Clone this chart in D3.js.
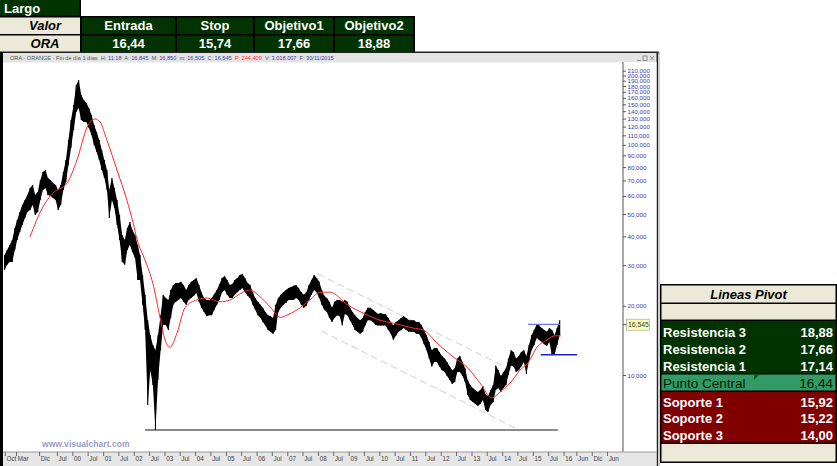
<!DOCTYPE html>
<html><head><meta charset="utf-8">
<script src="https://cdn.jsdelivr.net/npm/d3@7/dist/d3.min.js"></script>
<style>
body{margin:0;background:#fff;}
svg{display:block;font-family:"Liberation Sans",Arial,Helvetica,sans-serif;}
</style></head><body>
<svg id="c" width="837" height="466"></svg>
<script>
// ---------- data ----------
const tradeHeaders = ["Valor","Entrada","Stop","Objetivo1","Objetivo2"];
const tradeValues  = ["ORA","16,44","15,74","17,66","18,88"];
const pivotLabels  = ["Resistencia 3","Resistencia 2","Resistencia 1","Punto Central","Soporte 1","Soporte 2","Soporte 3"];
const pivotValues  = ["18,88","17,66","17,14","16,44","15,92","15,22","14,00"];

const firstMonth = "1997-10-01";   // monthly bars Oct 1997 .. Nov 2015
const monthHigh = [
33.2,34.9,36.7,38.6,43.5,47.1,51.1,54.8,57.6,60.5,
64.9,66.9,60.5,62.4,70.3,76.2,77.7,71.7,70.3,68.2,
66.9,63.6,66.9,76.2,85.9,104.9,128.2,148.9,182,191.2,
164.6,156.5,151.9,144.5,134.8,121.9,113.6,104.9,94.9,85.9,
77.7,63.6,71.7,64.9,57.6,49.6,40.6,38.6,43.5,46.2,
42.6,40.6,36.7,33.2,27.2,22.3,17.3,14.9,13.5,12.8,
14.9,18.2,22.3,21.6,21.2,23.4,24.6,25.1,25.1,25.4,
24.6,23.4,24.6,25.4,25.9,26.4,24.6,22.9,21.6,21.2,
21.2,21.6,22.5,23.4,24.8,26.4,26.9,25.9,24.6,24.8,
25.9,26.4,27.2,27.5,26.4,25.1,24.6,22.9,21.6,20.8,
20.2,19.6,18.8,18.2,18.0,17.7,20.2,21.6,22.3,22.9,
23.4,23.9,24.1,24.4,24.6,23.9,22.9,22.3,22.9,24.6,
25.9,27.2,26.4,25.4,23.4,22.1,21.6,20.8,19.6,20.8,
21.2,21.2,20.8,21.2,20.8,19.6,18.8,18.2,17.7,17.3,
17.7,18.8,19.6,19.6,19.2,18.8,18.4,18.6,18.4,18.4,
17.7,17.0,16.4,17.0,17.3,17.7,18.0,17.7,17.3,17.3,
17.3,17.0,17.0,16.5,15.7,14.9,13.9,12.8,13.1,13.1,
12.6,12.1,11.8,11.4,10.9,10.5,10.7,11.8,12.1,11.4,
10.7,9.51,9.05,8.78,8.61,8.44,8.61,8.95,8.27,8.10,
8.61,9.05,11.0,10.5,9.9,10.3,10.7,11.8,12.8,12.6,
11.8,12.1,12.6,12.8,12.1,13.5,14.9,15.7,16.6,16.4,
16.0,15.7,15.4,16.0,15.7,14.9,16.0,17.3];
const monthLow = [
28.6,30.1,31.0,31.0,34.9,38.6,41.8,44.8,48.1,51.1,
52.1,54.8,49.6,51.1,57.6,63.6,64.9,60.5,59.9,58.7,
57.6,52.1,54.8,63.6,68.9,81.7,96.8,115.9,138.8,144.5,
128.2,125.7,125.7,118.3,110.3,99.8,93.0,85.9,77.7,71.7,
63.6,48.1,57.6,53.2,44.8,38.6,31.0,30.1,34.9,36.7,
34.2,32.2,25.9,25.9,20.2,15.7,7.41,10.5,9.05,5.77,
9.51,12.8,16.5,16.5,15.7,17.7,20.2,20.8,21.2,21.6,
20.8,20.2,21.2,21.6,22.1,22.7,20.8,19.6,18.8,18.0,
18.2,18.2,19.2,20.2,21.2,22.9,23.4,22.3,21.6,21.6,
22.3,22.9,23.4,23.9,22.9,22.1,21.6,20.2,19.2,18.2,
17.7,17.0,16.4,15.7,15.4,15.1,15.7,18.8,19.6,20.2,
20.6,21.2,21.2,21.2,21.6,21.2,20.2,19.6,20.0,21.2,
22.3,23.4,22.9,21.6,20.2,19.2,18.8,17.7,17.0,17.7,
18.2,18.0,16.4,18.4,18.2,17.3,16.5,15.7,15.4,15.1,
15.4,16.4,17.3,17.3,17.0,16.5,16.4,16.4,16.4,16.4,
15.7,15.1,14.2,14.8,15.4,15.7,16.0,15.7,15.4,15.4,
15.4,15.1,15.1,14.5,13.6,12.8,11.8,10.9,11.4,11.4,
10.9,10.5,10.3,9.9,9.51,9.14,9.32,10.3,10.3,9.9,
9.32,8.19,7.79,7.64,7.48,7.33,7.48,7.79,7.05,6.91,
7.41,7.64,8.61,8.78,8.44,8.78,9.05,10.0,11.0,10.9,
10.3,10.5,10.9,11.4,10.1,11.6,12.8,13.5,14.5,14.2,
13.9,13.6,13.4,13.9,12.2,12.3,13.5,14.9];

const maDates = ["1998-08-15","1999-01-15","1999-05-15","1999-10-30","2000-02-25","2000-06-25","2000-09-28","2000-11-25","2001-02-15","2001-06-15",
"2001-10-10","2001-12-25","2002-02-10","2002-04-20","2002-06-05","2002-08-15","2002-11-10","2003-01-08","2003-03-08","2003-05-30",
"2003-09-01","2004-01-22","2004-05-22","2004-10-22","2005-02-22","2005-07-22","2005-10-15","2006-02-10","2006-06-10","2006-10-10",
"2006-12-28","2007-04-28","2007-09-28","2008-01-25","2008-05-25","2008-12-15","2009-06-20","2010-01-08","2010-06-15","2011-02-05",
"2011-06-05","2011-11-15","2012-05-25","2012-11-10","2013-04-12","2013-09-01","2013-12-05","2014-04-05","2014-08-01","2014-11-05",
"2015-02-18","2015-06-18","2015-09-20","2015-11-30"];
const maValues = [39.8,53.7,61.7,68.2,85.9,119.4,129.5,125.7,104.9,77.7,
57.6,45.7,38.6,33.2,30.1,25.1,17.7,14.2,13.2,15.2,
19.6,21.2,21.6,20.8,21.2,22.9,23.4,21.9,19.8,17.8,
18.2,19.2,21.2,22.9,22.9,20.2,18.6,17.3,16.8,16.0,
15.7,13.8,12.0,10.8,9.23,7.95,8.44,9.23,10.5,11.3,
13.2,14.2,14.8,14.8];

const channelUpper = [["2008-01-01",27.5],["2014-04-25",10.5]];
const channelLower = [["2008-02-15",15.5],["2014-06-01",5.9]];
const supportLine  = [["2002-05-15",5.77],["2015-10-25",5.77]];
const resistLine   = [["2014-11-05",16.6],["2015-11-20",16.6]];
const floorLine    = [["2015-04-05",12.25],["2016-06-10",12.25]];
const lastClose = 16.545;

const yTicks = [10,20,30,40,50,60,70,80,90,100,110,120,130,140,150,160,170,180,190,200,210];
const xTickDates = ["1997-10-20","1998-03-02","1998-12-01","1999-07-01","2000-01-01","2000-07-01","2001-01-01","2001-07-01","2002-01-01","2002-07-01",
"2003-01-01","2003-07-01","2004-01-01","2004-07-01","2005-01-01","2005-07-01","2006-01-01","2006-07-01","2007-01-01","2007-07-01",
"2008-01-01","2008-07-01","2009-01-01","2009-07-01","2010-01-01","2010-07-01","2011-01-01","2011-07-01","2012-01-01","2012-07-01",
"2013-01-01","2013-07-01","2014-01-01","2014-07-01","2015-01-01","2015-07-01","2016-01-01","2016-06-01","2016-12-01","2017-06-01"];
const xTickLabels = ["Oct","Mar","Dic","Jul","00","Jul","01","Jul","02","Jul",
"03","Jul","04","Jul","05","Jul","06","Jul","07","Jul",
"08","Jul","09","Jul","10","Jul","11","Jul","12","Jul",
"13","Jul","14","Jul","15","Jul","16","Jun","Dic","Jun"];

// ---------- drawing ----------
const svg = d3.select("#c");
const parse = d3.timeParse("%Y-%m-%d");
const GREEN="#003300", BEIGE="#ece9d8", RED="#800000", MIDGREEN="#339966";

// top-left trade table
const tt = svg.append("g");
tt.append("rect").attr("x",0).attr("y",0).attr("width",81).attr("height",17).attr("fill","#000");
tt.append("rect").attr("x",0).attr("y",16).attr("width",415).attr("height",37).attr("fill","#000");
tt.append("rect").attr("x",0).attr("y",0).attr("width",79.5).attr("height",15.5).attr("fill",GREEN);
tt.append("text").attr("x",4).attr("y",12.5).attr("fill","#fff").attr("font-weight","bold").attr("font-size",13).text("Largo");
const colX=[0,82,177,255,335], colW=[80,93,76,78,78];
const rowY=[17.5,35.5], rowH=16.5;
[tradeHeaders,tradeValues].forEach((row,r)=>{
  row.forEach((t,c)=>{
    tt.append("rect").attr("x",colX[c]).attr("y",rowY[r]).attr("width",colW[c]).attr("height",rowH)
      .attr("fill",c===0?BEIGE:GREEN);
    tt.append("text").attr("x",colX[c]+colW[c]/2+(c===0?5:0)).attr("y",rowY[r]+12.8).attr("text-anchor","middle")
      .attr("font-size",13).attr("font-weight","bold").attr("font-style",c===0?"italic":"normal")
      .attr("fill",c===0?"#000":"#fff").text(t);
  });
});

// chart window frame
svg.append("rect").attr("x",0).attr("y",51.5).attr("width",659).attr("height",2).attr("fill","#222");
svg.append("rect").attr("x",0).attr("y",53).attr("width",657).attr("height",9.5).attr("fill","#e4e4e4");
svg.append("rect").attr("x",0).attr("y",52).attr("width",3).attr("height",414).attr("fill","#000");
svg.append("rect").attr("x",656.5).attr("y",52).attr("width",1.5).attr("height",414).attr("fill","#222");
svg.append("rect").attr("x",658.5).attr("y",52).attr("width",1).attr("height",414).attr("fill","#999");
// window buttons
const wb = svg.append("g").attr("fill","none").attr("stroke","#777").attr("stroke-width",0.8);
wb.append("line").attr("x1",637).attr("x2",641).attr("y1",60.5).attr("y2",60.5);
wb.append("rect").attr("x",643).attr("y",56).attr("width",4).attr("height",4.5);
wb.append("path").attr("d","M650,56L654,60.5M654,56L650,60.5");

// title text
const title = svg.append("text").attr("x",10).attr("y",60).attr("font-size",5.6).attr("fill","#555");
[["ORA - ORANGE - Fin de día 1 días  H: ","#555"],["11:18","#3344aa"],["  A: ","#555"],["16,845","#3344aa"],
 ["  M: ","#555"],["16,850","#3344aa"],["  m: ","#555"],["16,505","#3344aa"],["  C: ","#555"],["16,545","#3344aa"],
 ["  P: 244,409","#ff3333"],["  V: ","#555"],["3.018.007","#3344aa"],["  F: ","#555"],["30/11/2015","#3344aa"]]
 .forEach(([t,c])=>title.append("tspan").attr("fill",c).attr("xml:space","preserve").text(t));

// scales
const x = d3.scaleTime().domain([new Date(1997,8,28), new Date(2017,11,8)]).range([3,623]);
const y = d3.scaleLog().domain([4.63,229]).range([452,62]);

svg.append("defs").append("clipPath").attr("id","plot").append("rect")
  .attr("x",3).attr("y",62).attr("width",620).attr("height",390);
const plot = svg.append("g").attr("clip-path","url(#plot)");

// watermark
svg.append("text").attr("x",42).attr("y",447).attr("font-size",8.6).attr("font-weight","bold")
  .attr("fill","#9b9bc9").text("www.visualchart.com");

// support/channel lines
const lineGen = d3.line().x(d=>x(parse(d[0]))).y(d=>y(d[1]));
plot.append("path").attr("d",lineGen(supportLine)).attr("stroke","#8a8a8a").attr("stroke-width",2).attr("fill","none");
[channelUpper,channelLower].forEach(c=>plot.append("path").attr("d",lineGen(c)).attr("stroke","#cfcfcf")
  .attr("stroke-width",1).attr("stroke-dasharray","7,4").attr("fill","none"));

// monthly high-low range: filled band plus one bar per month
const months = d3.timeMonth.range(parse(firstMonth), d3.timeMonth.offset(parse(firstMonth), monthHigh.length));
const mid = d => x(d3.timeDay.offset(d,15));
const band = d3.area().x(d=>mid(d)).y0((d,i)=>y(monthLow[i])).y1((d,i)=>y(monthHigh[i]));
plot.append("path").attr("d",band(months)).attr("fill","#000");
plot.append("g").selectAll("line").data(months).join("line")
  .attr("x1",mid).attr("x2",mid)
  .attr("y1",(d,i)=>y(monthHigh[i])).attr("y2",(d,i)=>y(monthLow[i]))
  .attr("stroke","#000").attr("stroke-width",1.1);

// moving average
const ma = maDates.map((d,i)=>[d,maValues[i]]);
plot.append("path").attr("d",d3.line().x(d=>x(parse(d[0]))).y(d=>y(d[1])).curve(d3.curveMonotoneX)(ma))
  .attr("stroke","#ff2a2a").attr("stroke-width",1).attr("fill","none");

// blue lines
plot.append("path").attr("d",lineGen(resistLine)).attr("stroke","#7070f0").attr("stroke-width",1.2).attr("fill","none");
plot.append("path").attr("d",lineGen(floorLine)).attr("stroke","#2323cc").attr("stroke-width",1.6).attr("fill","none");

// y axis
svg.append("rect").attr("x",623).attr("y",62).attr("width",33.5).attr("height",390).attr("fill","#fff");
const fmt = v => d3.format(".3f")(v).replace(".",",");
const ya = svg.append("g").attr("transform","translate(623,0)")
  .call(d3.axisRight(y).tickValues(yTicks).tickSize(3).tickPadding(1.5).tickFormat(fmt));
ya.select(".domain").remove();
ya.selectAll(".tick line").attr("stroke","#555");
ya.selectAll(".tick text").attr("fill","#3a3aa8").attr("font-size",6.2).attr("font-family","Liberation Sans, Arial, sans-serif");
svg.append("line").attr("x1",623).attr("x2",623).attr("y1",62).attr("y2",452).attr("stroke","#555");

// last price label
const ly = y(lastClose);
svg.append("line").attr("x1",623).attr("x2",627).attr("y1",ly).attr("y2",ly).attr("stroke","#555");
svg.append("rect").attr("x",626.5).attr("y",ly-5.5).attr("width",23).attr("height",11).attr("fill","#ffffb0").attr("stroke","#999").attr("stroke-width",0.6);
svg.append("text").attr("x",628).attr("y",ly+2.5).attr("font-size",6.8).attr("fill","#333").text(fmt(lastClose));

// x axis strip
svg.append("rect").attr("x",3).attr("y",452).attr("width",653.5).attr("height",14).attr("fill","#e6e6e6");
svg.append("line").attr("x1",3).attr("x2",656.5).attr("y1",452).attr("y2",452).attr("stroke","#999");
const xa = svg.append("g").attr("transform","translate(0,452)")
  .call(d3.axisBottom(x).tickValues(xTickDates.map(parse)).tickSize(4).tickFormat((d,i)=>xTickLabels[i]));
xa.select(".domain").remove();
xa.selectAll(".tick line").attr("stroke","#666");
xa.selectAll(".tick text").attr("text-anchor","start").attr("x",1.2).attr("y",4).attr("dy","0.75em")
  .attr("fill","#444").attr("font-size",6.3).attr("font-family","Liberation Sans, Arial, sans-serif");

// pivot table
const pv = svg.append("g");
pv.append("rect").attr("x",660).attr("y",284).attr("width",177).attr("height",179).attr("fill","#000");
const px0=661.5, pw=174;
pv.append("rect").attr("x",px0).attr("y",285.5).attr("width",pw).attr("height",17).attr("fill",BEIGE);
pv.append("text").attr("x",px0+pw/2).attr("y",298.5).attr("text-anchor","middle").attr("font-size",13)
  .attr("font-weight","bold").attr("font-style","italic").text("Lineas Pivot");
pv.append("rect").attr("x",px0).attr("y",304).attr("width",pw).attr("height",15.5).attr("fill",BEIGE);
pv.append("rect").attr("x",px0).attr("y",321).attr("width",pw).attr("height",52).attr("fill",GREEN);
pv.append("rect").attr("x",px0).attr("y",374.5).attr("width",pw).attr("height",16).attr("fill",MIDGREEN);
pv.append("rect").attr("x",px0).attr("y",392).attr("width",pw).attr("height",50.5).attr("fill",RED);
pv.append("rect").attr("x",px0).attr("y",444).attr("width",pw).attr("height",17.5).attr("fill",BEIGE);
pv.append("path").attr("d","M754,375L759,375L754,380Z").attr("fill","#006600");
const rowCY=[332,349,366,383,402,418.5,435];
pivotLabels.forEach((l,i)=>{
  const central = i===3;
  pv.append("text").attr("x",663).attr("y",rowCY[i]+4.5).attr("font-size",central?13.5:13)
    .attr("font-weight",central?"normal":"bold").attr("fill",central?"#002200":"#fff").text(l);
  pv.append("text").attr("x",833).attr("y",rowCY[i]+4.5).attr("text-anchor","end").attr("font-size",central?13.5:13)
    .attr("font-weight",central?"normal":"bold").attr("fill",central?"#002200":"#fff").text(pivotValues[i]);
});
</script>
</body></html>
